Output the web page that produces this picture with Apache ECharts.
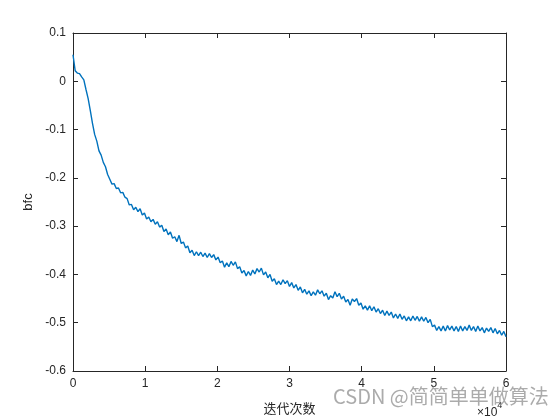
<!DOCTYPE html>
<html>
<head>
<meta charset="utf-8">
<script src="https://cdn.jsdelivr.net/npm/echarts@6/dist/echarts.min.js"></script>
<style>html,body{margin:0;padding:0;background:#fff;}#c{width:560px;height:420px;}</style>
</head>
<body>
<div id="c"></div>
<script>
// iteration step between samples
const ITER_STEP = 300;
// bfc values, one every ITER_STEP iterations (0 .. 60000)
const bfc = [
0.055,0.022,0.017,0.016,0.009,0.003,-0.017,-0.036,-0.061,-0.087,
-0.110,-0.124,-0.144,-0.153,-0.168,-0.177,-0.193,-0.203,-0.213,-0.212,
-0.222,-0.221,-0.231,-0.230,-0.240,-0.243,-0.256,-0.255,-0.266,-0.261,
-0.270,-0.264,-0.277,-0.273,-0.285,-0.281,-0.291,-0.286,-0.296,-0.291,
-0.302,-0.298,-0.311,-0.306,-0.318,-0.312,-0.325,-0.322,-0.332,-0.319,
-0.336,-0.333,-0.345,-0.341,-0.355,-0.350,-0.361,-0.353,-0.361,-0.354,
-0.363,-0.356,-0.365,-0.357,-0.365,-0.359,-0.370,-0.364,-0.376,-0.372,
-0.385,-0.376,-0.384,-0.373,-0.381,-0.374,-0.388,-0.384,-0.397,-0.392,
-0.403,-0.394,-0.402,-0.391,-0.399,-0.388,-0.395,-0.387,-0.401,-0.395,
-0.407,-0.400,-0.414,-0.409,-0.421,-0.414,-0.421,-0.411,-0.419,-0.413,
-0.425,-0.417,-0.428,-0.421,-0.433,-0.426,-0.438,-0.431,-0.441,-0.434,
-0.444,-0.436,-0.443,-0.432,-0.440,-0.434,-0.445,-0.439,-0.452,-0.444,
-0.449,-0.436,-0.446,-0.439,-0.451,-0.445,-0.457,-0.452,-0.464,-0.451,
-0.456,-0.450,-0.464,-0.459,-0.472,-0.465,-0.474,-0.465,-0.475,-0.467,
-0.478,-0.471,-0.481,-0.474,-0.485,-0.476,-0.485,-0.478,-0.490,-0.482,
-0.491,-0.482,-0.493,-0.486,-0.496,-0.488,-0.496,-0.486,-0.495,-0.487,
-0.497,-0.488,-0.497,-0.489,-0.500,-0.493,-0.508,-0.505,-0.516,-0.508,
-0.517,-0.507,-0.517,-0.506,-0.515,-0.507,-0.517,-0.508,-0.518,-0.507,
-0.517,-0.508,-0.516,-0.505,-0.516,-0.508,-0.518,-0.507,-0.517,-0.510,
-0.521,-0.511,-0.518,-0.510,-0.521,-0.512,-0.523,-0.516,-0.526,-0.518,
-0.529
];
const xTicks = [0,1,2,3,4,5,6];           // ×10^4
const yTicks = [0.1,0,-0.1,-0.2,-0.3,-0.4,-0.5,-0.6];
const xName = '迭代次数';
const yName = 'bfc';
const watermark = 'CSDN @简简单单做算法';

const points = bfc.map((v, i) => [i * ITER_STEP, v]);

const axisColor = '#262626';
const font = 'Liberation Sans, Arial, sans-serif';

function fmtY(v){ const r = Math.round(v*10)/10; return r === 0 ? '0' : String(r); }

const chart = echarts.init(document.getElementById('c'), null, {renderer:'canvas'});
const xCommon = {
  type:'value', min:0, max:60000, interval:10000,
  axisLine:{show:true, onZero:false, lineStyle:{color:axisColor, width:1}},
  axisTick:{show:true, inside:true, length:5, lineStyle:{color:axisColor}},
  splitLine:{show:false}
};
const yCommon = {
  type:'value', min:-0.6, max:0.1, interval:0.1,
  axisLine:{show:true, onZero:false, lineStyle:{color:axisColor, width:1}},
  axisTick:{show:true, inside:true, length:5, lineStyle:{color:axisColor}},
  splitLine:{show:false}
};
chart.setOption({
  animation:false,
  backgroundColor:'#fff',
  grid:{left:73, right:54, top:33, bottom:44, containLabel:false},
  xAxis:[
    Object.assign({}, xCommon, {position:'bottom',
      name:xName, nameLocation:'middle', nameGap:31,
      nameTextStyle:{color:axisColor, fontSize:13, fontFamily:'Noto Sans CJK SC'},
      axisLabel:{color:axisColor, fontSize:12, fontFamily:font, margin:7,
        formatter:v => String(xTicks[Math.round(v/10000)])}}),
    Object.assign({}, xCommon, {position:'top', axisLabel:{show:false}})
  ],
  yAxis:[
    Object.assign({}, yCommon, {position:'left',
      name:yName, nameLocation:'middle', nameGap:33, nameRotate:90,
      nameTextStyle:{color:axisColor, fontSize:13, fontFamily:font},
      axisLabel:{color:axisColor, fontSize:12, fontFamily:font, margin:7, formatter:fmtY}}),
    Object.assign({}, yCommon, {position:'right', axisLabel:{show:false}})
  ],
  series:[{
    type:'line', data:points, showSymbol:false, symbol:'none',
    lineStyle:{color:'#0072BD', width:1.4}, xAxisIndex:0, yAxisIndex:0
  }],
  graphic:[
    {type:'text', left:477, top:401, style:{
      text:'{a|×10}{s|4}', rich:{
        a:{fontSize:12, fill:axisColor, fontFamily:font, padding:[6,0,0,0]},
        s:{fontSize:9, fill:axisColor, fontFamily:font, verticalAlign:'top'}
      }}},
    {type:'text', left:333, top:386, z:100, style:{
      text:watermark, fontSize:20, fill:'rgba(150,150,150,0.8)', fontFamily:'Noto Sans CJK SC'}}
  ]
});
</script>
</body>
</html>
